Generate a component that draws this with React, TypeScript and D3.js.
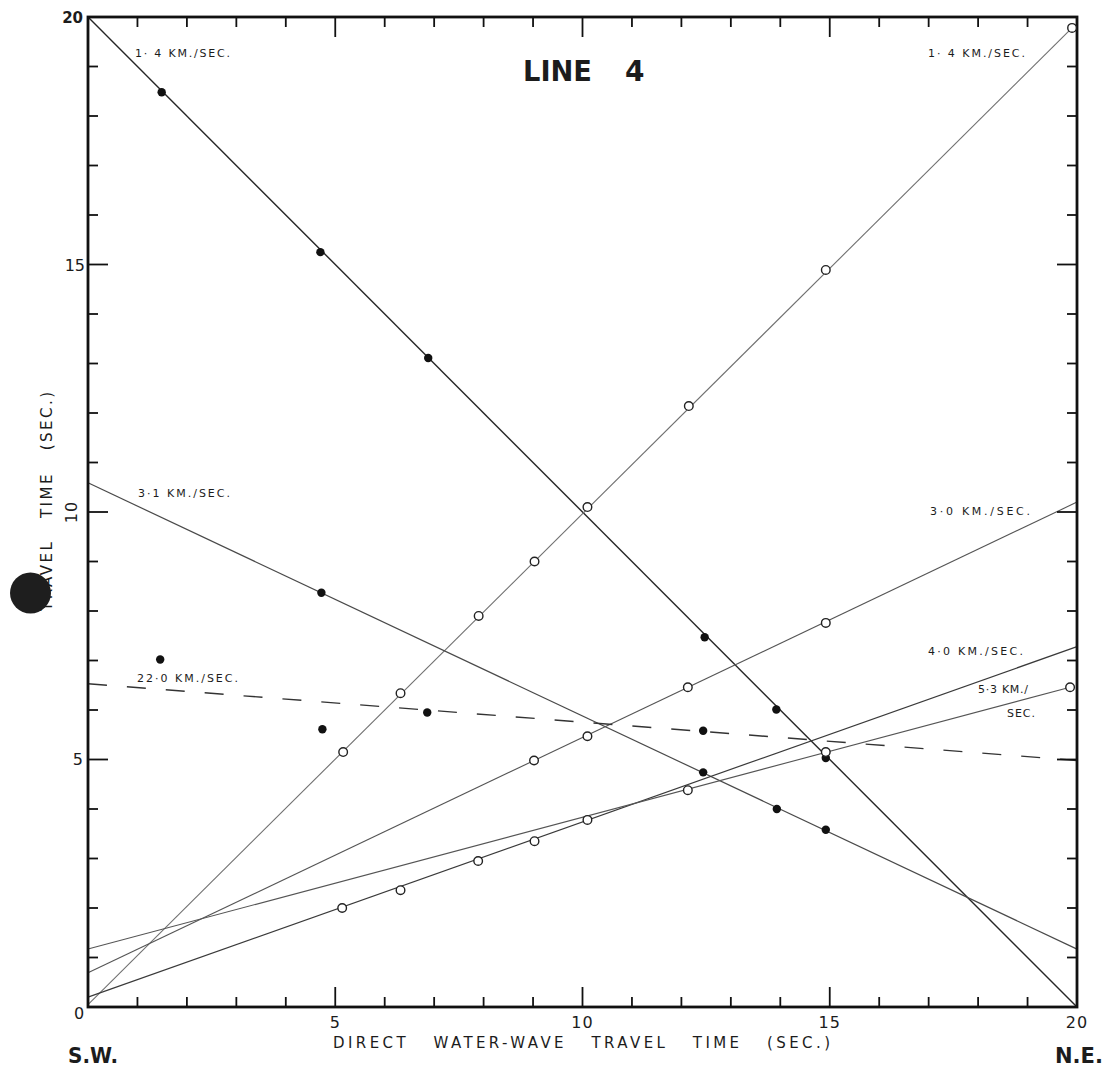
import React from 'react';
import * as d3 from 'd3';

// ---- data -------------------------------------------------------------
const axisDomain: [number, number] = [0, 20];
const minorTicks = [1, 2, 3, 4, 6, 7, 8, 9, 11, 12, 13, 14, 16, 17, 18, 19];
const majorTicks = [5, 10, 15];
const xTickLabels = [5, 10, 15, 20];

// travel-time lines: [direct water-wave time, travel time]
const line14SW: [number, number][] = [[0, 20], [20, 0]];
const line14NE: [number, number][] = [[0, 0.05], [19.9, 19.78]];
const line31: [number, number][] = [[0, 10.59], [20, 1.17]];
const line30: [number, number][] = [[0, 0.69], [20, 10.2]];
const line40: [number, number][] = [[0, 0.2], [20, 7.28]];
const line53: [number, number][] = [[0, 1.17], [19.86, 6.46]];
const line220: [number, number][] = [[0, 6.53], [20, 4.98]];

// shots fired from the S.W. end (solid) and N.E. end (open)
const swArrivals: [number, number][] = [
  [1.49, 18.48], [4.70, 15.25], [6.88, 13.11], [12.47, 7.47], [13.92, 6.01], [14.92, 5.03],
  [4.72, 8.37], [12.44, 4.74], [13.93, 4.0], [14.92, 3.58],
  [1.46, 7.02], [4.74, 5.61], [6.86, 5.95], [12.44, 5.58],
];
const neArrivals: [number, number][] = [
  [5.16, 5.15], [6.32, 6.34], [7.90, 7.90], [9.03, 9.00], [10.10, 10.10], [12.15, 12.14], [14.92, 14.89], [19.9, 19.78],
  [9.02, 4.98], [10.10, 5.47], [12.13, 6.46], [14.92, 7.76],
  [5.14, 2.0], [6.32, 2.36], [7.89, 2.95], [9.03, 3.35], [10.10, 3.78], [12.13, 4.38], [14.92, 5.15], [19.86, 6.46],
];

const velocityLabels = [
  { text: '1· 4 KM./SEC.', x: 135, y: 57, len: 95 },
  { text: '1· 4 KM./SEC.', x: 928, y: 57, len: 97 },
  { text: '3·1 KM./SEC.', x: 138, y: 497, len: 92 },
  { text: '22·0 KM./SEC.', x: 137, y: 682, len: 101 },
  { text: '3·0 KM./SEC.', x: 930, y: 515, len: 100 },
  { text: '4·0 KM./SEC.', x: 928, y: 655, len: 95 },
  { text: '5·3 KM./', x: 978, y: 693, len: 50 },
  { text: 'SEC.', x: 1007, y: 717, len: 28 },
];

// ---- chart ------------------------------------------------------------
const FONT = '"DejaVu Sans", "Liberation Sans", sans-serif';
const INK = '#1c1c1c';

export default function App() {
  const x = d3.scaleLinear().domain(axisDomain).range([88, 1077]);
  const y = d3.scaleLinear().domain(axisDomain).range([1007, 17]);
  const line = d3.line<[number, number]>().x(d => x(d[0])).y(d => y(d[1]));

  const left = x(0), right = x(20), top = y(20), bottom = y(0);

  const lines = [
    { d: line14SW, stroke: '#262626', w: 1.4 },
    { d: line14NE, stroke: '#707070', w: 1.1 },
    { d: line31, stroke: '#4a4a4a', w: 1.2 },
    { d: line30, stroke: '#555', w: 1.1 },
    { d: line40, stroke: '#3a3a3a', w: 1.2 },
    { d: line53, stroke: '#555', w: 1.1 },
  ];

  return (
    <svg width={1115} height={1069} style={{ position: 'absolute', left: 0, top: 0, background: '#fff' }}>
      <rect x={0} y={0} width={1115} height={1069} fill="#fff" />

      {/* fitted lines */}
      {lines.map((l, i) => (
        <path key={i} d={line(l.d) ?? ''} fill="none" stroke={l.stroke} strokeWidth={l.w} />
      ))}
      <path d={line(line220) ?? ''} fill="none" stroke="#333" strokeWidth={1.4} strokeDasharray="19,20" />

      {/* frame */}
      <rect x={left} y={top} width={right - left} height={bottom - top} fill="none" stroke="#111" strokeWidth={2.8} />

      {/* ticks, all pointing inward */}
      {[...minorTicks.map(v => ({ v, len: 10 })), ...majorTicks.map(v => ({ v, len: 20 }))].map(({ v, len }) => (
        <g key={'t' + v} stroke="#111" strokeWidth={1.8}>
          <line x1={x(v)} x2={x(v)} y1={bottom} y2={bottom - len} />
          <line x1={x(v)} x2={x(v)} y1={top} y2={top + len} />
          <line x1={left} x2={left + len} y1={y(v)} y2={y(v)} />
          <line x1={right} x2={right - len} y1={y(v)} y2={y(v)} />
        </g>
      ))}

      {/* arrivals */}
      {swArrivals.map((p, i) => (
        <circle key={'s' + i} cx={x(p[0])} cy={y(p[1])} r={4.2} fill="#111" />
      ))}
      {neArrivals.map((p, i) => (
        <circle key={'n' + i} cx={x(p[0])} cy={y(p[1])} r={4.3} fill="#fff" stroke="#222" strokeWidth={1.4} />
      ))}

      {/* tick labels */}
      <g fontFamily={FONT} fill={INK} fontSize={16}>
        {xTickLabels.map(v => (
          <text key={'xl' + v} x={x(v)} y={1028} textAnchor="middle" letterSpacing={1}>{v}</text>
        ))}
        <text x={83} y={23} textAnchor="end" fontWeight="bold" fontSize={15}>20</text>
        <text x={85} y={271} textAnchor="end">15</text>
        <text transform={`translate(77,${y(10)}) rotate(-90)`} textAnchor="middle" letterSpacing={1}>10</text>
        <text x={83} y={765} textAnchor="end">5</text>
        <text x={79} y={1019} textAnchor="middle" fontSize={16}>0</text>
      </g>

      {/* axis titles */}
      <g fontFamily={FONT} fill={INK} fontSize={15}>
        <text x={333} y={1048} textLength={497} lengthAdjust="spacing" style={{ whiteSpace: 'pre' }}>
          DIRECT   WATER-WAVE   TRAVEL   TIME   (SEC.)
        </text>
        <text transform="translate(52,611) rotate(-90)" textLength={219} lengthAdjust="spacing" style={{ whiteSpace: 'pre' }}>
          TRAVEL   TIME   (SEC.)
        </text>
      </g>

      {/* velocity annotations */}
      <g fontFamily={FONT} fill={INK} fontSize={11}>
        {velocityLabels.map((l, i) => (
          <text key={'v' + i} x={l.x} y={l.y} textLength={l.len} lengthAdjust="spacing">{l.text}</text>
        ))}
      </g>

      {/* title and ends of the line */}
      <g fontFamily={FONT} fill={INK} fontWeight="bold">
        <text x={523} y={81} fontSize={28} textLength={69} lengthAdjust="spacingAndGlyphs">LINE</text>
        <text x={625} y={81} fontSize={28}>4</text>
        <text x={68} y={1063} fontSize={22} textLength={50} lengthAdjust="spacingAndGlyphs">S.W.</text>
        <text x={1055} y={1063} fontSize={22} textLength={48} lengthAdjust="spacingAndGlyphs">N.E.</text>
      </g>

      {/* dark spot over the vertical title */}
      <circle cx={30.5} cy={593} r={20.5} fill="#1e1e1e" />
    </svg>
  );
}
